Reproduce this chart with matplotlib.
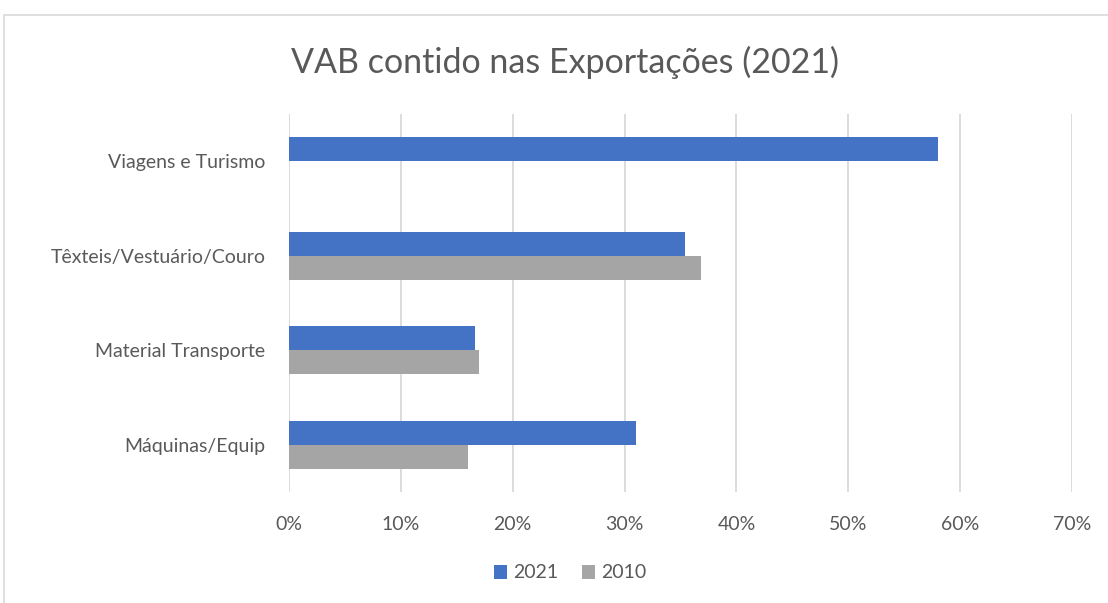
import matplotlib.pyplot as plt
import numpy as np

categories = ["Máquinas/Equip", "Material Transporte", "Têxteis/Vestuário/Couro", "Viagens e Turismo"]
vab_2021 = [31.0, 16.6, 35.4, 58.0]
vab_2010 = [16.0, 17.0, 36.8, 0.0]
xticks = [0, 10, 20, 30, 40, 50, 60, 70]

plt.rcParams['font.family'] = ['Lato', 'DejaVu Sans']
text_color = "#595959"

fig = plt.figure(figsize=(11.08, 6.03), dpi=100)
ax = fig.add_axes([289 / 1108, 1 - 492 / 603, (1072 - 289) / 1108, (492 - 114) / 603])

y = np.arange(len(categories))
h = 0.255
ax.barh(y + h / 2, vab_2021, height=h, color="#4472C4", label="2021", zorder=3)
ax.barh(y - h / 2, vab_2010, height=h, color="#A5A5A5", label="2010", zorder=3)

ax.set_xlim(0, 70)
ax.set_ylim(-0.5, len(categories) - 0.5)
ax.set_xticks(xticks)
ax.set_xticklabels([f"{t}%" for t in xticks])
ax.set_yticks(y)
ax.set_yticklabels(categories)
ax.tick_params(axis="both", length=0, labelsize=14, colors=text_color)
ax.tick_params(axis="x", pad=17)
ax.tick_params(axis="y", pad=17)
ax.grid(axis="x", color="#D9D9D9", linewidth=1.3, zorder=0)
for s in ax.spines.values():
    s.set_visible(False)

fig.text(565 / 1108, 1 - 62 / 603, "VAB contido nas Exportações (2021)", ha="center", va="center",
         fontsize=24.5, color=text_color)

ax.legend(loc="center", bbox_to_anchor=(570 / 1108, 1 - 573 / 603), bbox_transform=fig.transFigure,
          ncol=2, frameon=False, fontsize=14, labelcolor=text_color, handlelength=0.7, handleheight=0.7,
          columnspacing=1.2, handletextpad=0.3)

# chart frame
fig.patches.append(plt.Rectangle((4 / 1108, -0.1), 1.2, 1 - 15 / 603 + 0.1, transform=fig.transFigure,
                                 fill=False, edgecolor="#D9D9D9", linewidth=1.2))

fig.savefig("out.png", dpi=100, facecolor="white")
